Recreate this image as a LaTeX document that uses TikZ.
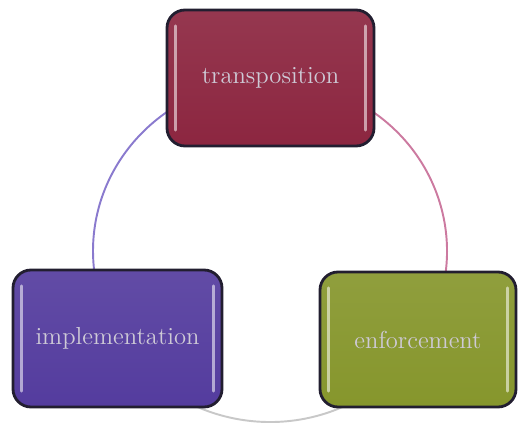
\documentclass[tikz,border=0pt]{standalone}
\usepackage{xcolor}
\usepackage{tikz}

\definecolor{transred}{RGB}{140,38,64}
\definecolor{implpurple}{RGB}{84,60,158}
\definecolor{enfolive}{RGB}{134,150,44}
\definecolor{boxline}{RGB}{34,30,48}
\definecolor{boxtext}{RGB}{206,202,214}

\begin{document}
\begin{tikzpicture}[
  phase/.style={rectangle, rounded corners=0.36cm, draw=boxline, line width=1.6pt,
    minimum width=#1, font=\fontsize{14}{16}\selectfont, text=boxtext,
    path picture={
      \draw[white, opacity=.55, line width=1.5pt, line cap=round]
        ([xshift=5pt,yshift=-9pt]path picture bounding box.north west) --
        ([xshift=5pt,yshift=9pt]path picture bounding box.south west);
      \draw[white, opacity=.55, line width=1.5pt, line cap=round]
        ([xshift=-5pt,yshift=-9pt]path picture bounding box.north east) --
        ([xshift=-5pt,yshift=9pt]path picture bounding box.south east);
    }},
  ring/.style={line width=1.1pt}
]
\useasboundingbox (0,0) rectangle (10.36,8.48);

%centre of the ring
\coordinate (hub) at (5.4,3.46);

%draw the ring in three parts
\draw[ring, color={rgb,255:red,138;green,122;blue,206}] ([shift={(90:3.54cm and 3.42cm)}]hub)
  arc[start angle=90, end angle=210, x radius=3.54cm, y radius=3.42cm];
\draw[ring, color={rgb,255:red,204;green,122;blue,160}] ([shift={(-30:3.54cm and 3.42cm)}]hub)
  arc[start angle=-30, end angle=90, x radius=3.54cm, y radius=3.42cm];
\draw[ring, color={rgb,255:red,200;green,200;blue,200}] ([shift={(210:3.54cm and 3.42cm)}]hub)
  arc[start angle=210, end angle=330, x radius=3.54cm, y radius=3.42cm];

%draw nodes
\draw (5.41,6.92) node[phase=4.14cm, minimum height=2.72cm, top color=transred!92!white, bottom color=transred, name=trans] {transposition};
\draw (2.35,1.71) node[phase=4.18cm, minimum height=2.74cm, top color=implpurple!92!white, bottom color=implpurple, name=impl] {implementation};
\draw (8.36,1.69) node[phase=3.92cm, minimum height=2.7cm, top color=enfolive!92!white, bottom color=enfolive, name=enf] {enforcement};
\end{tikzpicture}
\end{document}
